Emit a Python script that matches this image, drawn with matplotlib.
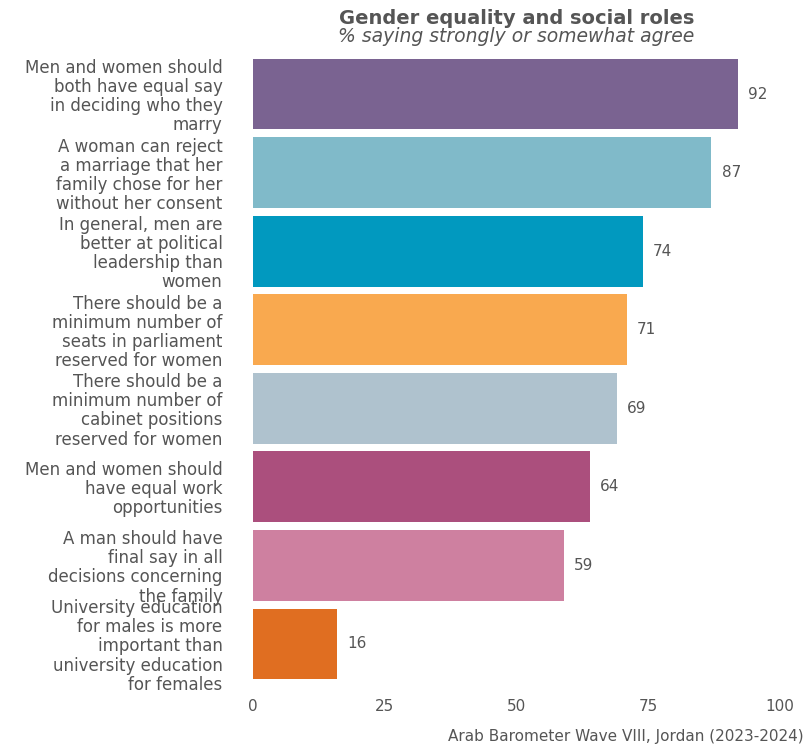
import matplotlib
matplotlib.use("Agg")
import matplotlib.pyplot as plt

categories = [
    "Men and women should\nboth have equal say\nin deciding who they\nmarry",
    "A woman can reject\na marriage that her\nfamily chose for her\nwithout her consent",
    "In general, men are\nbetter at political\nleadership than\nwomen",
    "There should be a\nminimum number of\nseats in parliament\nreserved for women",
    "There should be a\nminimum number of\ncabinet positions\nreserved for women",
    "Men and women should\nhave equal work\nopportunities",
    "A man should have\nfinal say in all\ndecisions concerning\nthe family",
    "University education\nfor males is more\nimportant than\nuniversity education\nfor females",
]
values = [92, 87, 74, 71, 69, 64, 59, 16]
colors = ["#7A6391", "#80BAC9", "#0199BF", "#F9A94F",
          "#AFC2CE", "#AB4F7D", "#CE80A0", "#E06E21"]
xticks = [0, 25, 50, 75, 100]

FONT = ["DejaVu Sans"]
TXT = "#555555"
plt.rcParams["font.family"] = FONT

fig = plt.figure(figsize=(8.06, 7.46), dpi=100)
W, H = 806, 746
ax = fig.add_axes([253 / W, (H - 691) / H, (780 - 253) / W, 644 / H])

pos = list(range(len(values)))
ax.barh(pos, values, height=0.9, color=colors)
ax.set_ylim(len(values) - 0.4, -0.6)
ax.set_xlim(0, 100)

for p, v in zip(pos, values):
    ax.text(v + 1.9, p, str(v), va="center", ha="left",
            fontsize=11, color=TXT)

ax.set_yticks(pos)
ax.set_yticklabels(categories, fontsize=12, color=TXT, linespacing=1.08)
ax.set_xticks(xticks)
ax.set_xticklabels([str(t) for t in xticks], fontsize=11, color=TXT)
ax.tick_params(axis="y", length=0, pad=22)
ax.tick_params(axis="x", length=0, pad=6)
for s in ax.spines.values():
    s.set_visible(False)

cx = (253 + 780) / 2 / W
fig.text(cx, 1 - 18 / H, "Gender equality and social roles", ha="center",
         va="center", fontsize=14, fontweight="bold", color=TXT)
fig.text(cx, 1 - 36 / H, "% saying strongly or somewhat agree", ha="center",
         va="center", fontsize=13.5, style="italic", color=TXT)
fig.text(804 / W, 1 - 736 / H, "Arab Barometer Wave VIII, Jordan (2023-2024)",
         ha="right", va="center", fontsize=11, color=TXT)

fig.savefig("out.png", dpi=100)
